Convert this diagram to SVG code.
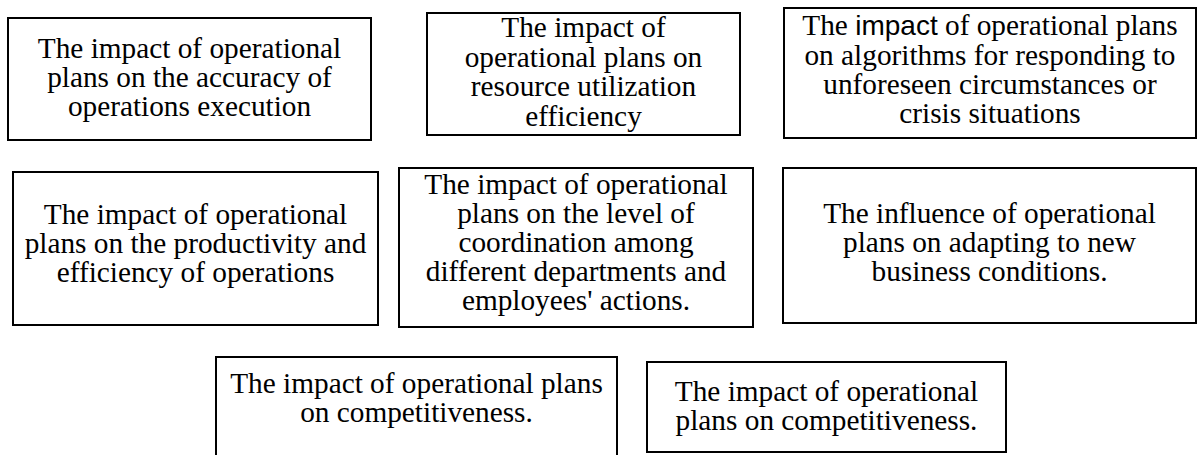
<svg xmlns="http://www.w3.org/2000/svg" width="1198" height="455" viewBox="0 0 1198 455">
<style>
.box{fill:#fff;stroke:#000;stroke-width:2}
.t{font-family:'Liberation Serif',Tinos,'Times New Roman','DejaVu Serif',serif;font-size:29.3px;fill:#000;text-anchor:middle}
.s{font-family:'Liberation Sans',Arimo,Arial,sans-serif;font-size:28px}
</style>
<rect width="1198" height="455" fill="#fff"/>
<g id="connectors"></g>
<g id="n1">
<rect class="box" x="8" y="18" width="363" height="122"/>
<text class="t"><tspan x="189.5" y="58">The impact of operational</tspan><tspan x="189.5" y="87">plans on the accuracy of</tspan><tspan x="189.5" y="116">operations execution</tspan></text>
</g>
<g id="n2">
<rect class="box" x="427" y="13" width="313" height="122"/>
<text class="t"><tspan x="583.5" y="37">The impact of</tspan><tspan x="583.5" y="67">operational plans on</tspan><tspan x="583.5" y="96">resource utilization</tspan><tspan x="583.5" y="126">efficiency</tspan></text>
</g>
<g id="n3">
<rect class="box" x="784" y="8" width="412" height="130"/>
<text class="t"><tspan x="990" y="35">The <tspan class="s">impact</tspan> of operational plans</tspan><tspan x="990" y="65">on algorithms for responding to</tspan><tspan x="990" y="94">unforeseen circumstances or</tspan><tspan x="990" y="123">crisis situations</tspan></text>
</g>
<g id="n4">
<rect class="box" x="13" y="172" width="365" height="153"/>
<text class="t"><tspan x="195.5" y="224">The impact of operational</tspan><tspan x="195.5" y="253">plans on the productivity and</tspan><tspan x="195.5" y="282">efficiency of operations</tspan></text>
</g>
<g id="n5">
<rect class="box" x="399" y="168" width="354" height="159"/>
<text class="t"><tspan x="576" y="194">The impact of operational</tspan><tspan x="576" y="223">plans on the level of</tspan><tspan x="576" y="252">coordination among</tspan><tspan x="576" y="281">different departments and</tspan><tspan x="576" y="310">employees' actions.</tspan></text>
</g>
<g id="n6">
<rect class="box" x="783" y="168" width="413" height="155"/>
<text class="t"><tspan x="989.5" y="223">The influence of operational</tspan><tspan x="989.5" y="252">plans on adapting to new</tspan><tspan x="989.5" y="281">business conditions.</tspan></text>
</g>
<g id="n7">
<rect class="box" x="216" y="357" width="401" height="110"/>
<text class="t"><tspan x="416.5" y="393">The impact of operational plans</tspan><tspan x="416.5" y="422">on competitiveness.</tspan></text>
</g>
<g id="n8">
<rect class="box" x="647" y="362" width="359" height="90"/>
<text class="t"><tspan x="826.5" y="401">The impact of operational</tspan><tspan x="826.5" y="430">plans on competitiveness.</tspan></text>
</g>
</svg>
